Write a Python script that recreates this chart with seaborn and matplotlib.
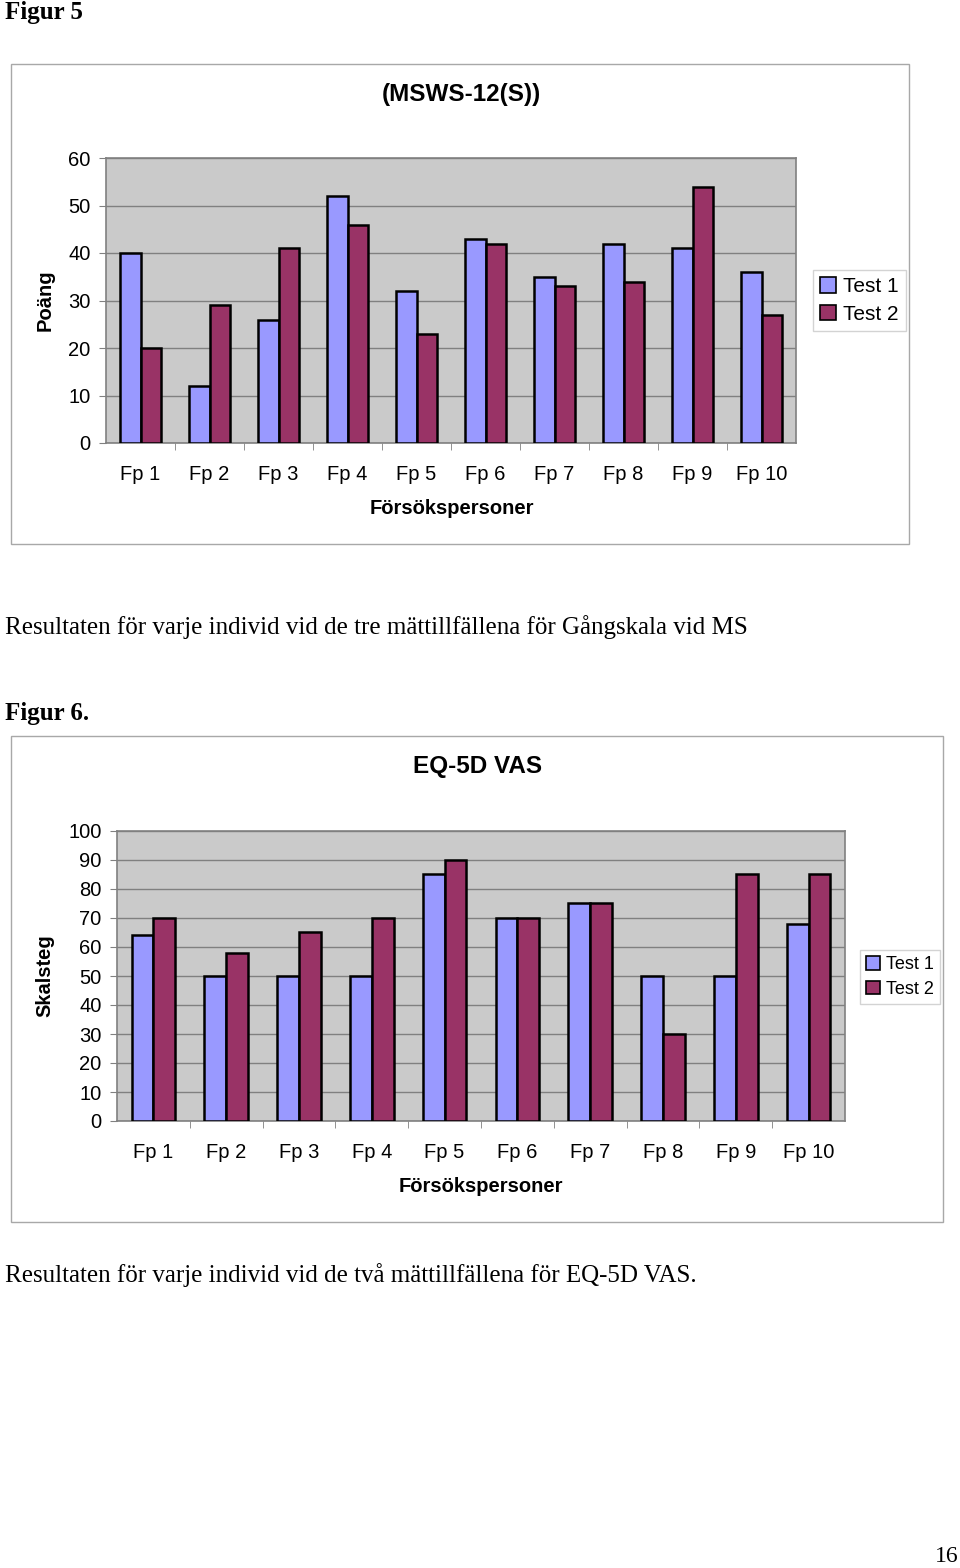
import matplotlib
matplotlib.use("Agg")
import matplotlib.pyplot as plt
import matplotlib.patches as mpatches
import seaborn as sns
import pandas as pd

# ---- data ----
participants = ["Fp 1", "Fp 2", "Fp 3", "Fp 4", "Fp 5", "Fp 6", "Fp 7", "Fp 8", "Fp 9", "Fp 10"]
series_names = ["Test 1", "Test 2"]
msws_test1 = [40, 12, 26, 52, 32, 43, 35, 42, 41, 36]
msws_test2 = [20, 29, 41, 46, 23, 42, 33, 34, 54, 27]
eq5d_test1 = [64, 50, 50, 50, 85, 70, 75, 50, 50, 68]
eq5d_test2 = [70, 58, 65, 70, 90, 70, 75, 30, 85, 85]
msws_yticks = [0, 10, 20, 30, 40, 50, 60]
eq5d_yticks = [0, 10, 20, 30, 40, 50, 60, 70, 80, 90, 100]

colors = ["#9999FF", "#993366"]
SANS = ["Liberation Sans", "DejaVu Sans"]
SERIF = ["Liberation Serif", "DejaVu Serif"]
plt.rcParams["font.family"] = SANS

W, H = 960, 1568
fig = plt.figure(figsize=(W / 100, H / 100), dpi=100)


def rect(x0, y0, x1, y1):
    return [x0 / W, 1 - y1 / H, (x1 - x0) / W, (y1 - y0) / H]


def fx(x):
    return x / W


def fy(y):
    return 1 - y / H


def long_df(t1, t2):
    return pd.DataFrame({
        "Fp": participants * 2,
        "Serie": [series_names[0]] * len(t1) + [series_names[1]] * len(t2),
        "Värde": list(t1) + list(t2),
    })


def draw_chart(box, plot, data, yticks, title, title_xy, ylabel, ylabel_xy, xlabel_xy, legend_xy, fs):
    # outer chart frame
    fig.patches.append(mpatches.Rectangle((fx(box[0]), fy(box[3])), fx(box[2] - box[0]), (box[3] - box[1]) / H,
                                          transform=fig.transFigure, fill=False, edgecolor="#a8a8a8", lw=1.0))
    ax = fig.add_axes(rect(*plot))
    ax.set_facecolor("#CACACA")
    sns.barplot(data=data, x="Fp", y="Värde", hue="Serie", order=participants, hue_order=series_names,
                palette=colors, saturation=1, width=0.6, edgecolor="black", linewidth=1.8, ax=ax,
                legend=False, zorder=3)
    ax.set_ylim(yticks[0], yticks[-1])
    ax.set_yticks(yticks)
    ax.set_xlim(-0.5, len(participants) - 0.5)
    ax.yaxis.grid(True, color="#808080", lw=1.0, zorder=0)
    ax.set_axisbelow(True)
    for s in ax.spines.values():
        s.set_color("#808080")
        s.set_linewidth(1.2)
    ax.tick_params(axis="y", length=5, color="#808080", labelsize=fs, pad=6)
    ax.tick_params(axis="x", length=0, labelsize=fs, pad=16)
    ax.set_xticks([i + 0.5 for i in range(len(participants) - 1)], minor=True)
    ax.tick_params(axis="x", which="minor", length=5, color="#808080")
    ax.set_xlabel("")
    ax.set_ylabel("")
    fig.text(fx(title_xy[0]), fy(title_xy[1]), title, ha="center", va="center", fontsize=17.5, fontweight="bold")
    fig.text(fx(ylabel_xy[0]), fy(ylabel_xy[1]), ylabel, ha="center", va="center", rotation=90,
             fontsize=fs, fontweight="bold")
    fig.text(fx(xlabel_xy[0]), fy(xlabel_xy[1]), "Försökspersoner", ha="center", va="center",
             fontsize=fs, fontweight="bold")
    handles = [mpatches.Patch(facecolor=c, edgecolor="black", lw=1.2) for c in colors]
    leg = fig.legend(handles, series_names, loc="upper left", bbox_to_anchor=(fx(legend_xy[0]), fy(legend_xy[1])),
                     bbox_transform=fig.transFigure, fontsize=legend_xy[2], frameon=True, fancybox=False,
                     edgecolor="#c8c8c8", handlelength=0.75, handleheight=0.75, handletextpad=0.35,
                     borderpad=0.35, labelspacing=0.4, borderaxespad=0)
    leg.get_frame().set_linewidth(1.0)
    return ax


# ---- Figur 5 ----
fig.text(fx(5), fy(13), "Figur 5", ha="left", va="center", fontsize=18, fontweight="bold", family=SERIF)
draw_chart(box=(11, 64, 909, 544), plot=(106, 158, 796, 443), data=long_df(msws_test1, msws_test2),
           yticks=msws_yticks, title="(MSWS-12(S))", title_xy=(461, 94), ylabel="Poäng", ylabel_xy=(45, 300),
           xlabel_xy=(452, 509), legend_xy=(813, 270, 15), fs=14.5)
fig.text(fx(5), fy(627), "Resultaten för varje individ vid de tre mättillfällena för Gångskala vid MS",
         ha="left", va="center", fontsize=18, family=SERIF)

# ---- Figur 6 ----
fig.text(fx(5), fy(714), "Figur 6.", ha="left", va="center", fontsize=18, fontweight="bold", family=SERIF)
draw_chart(box=(11, 736, 943, 1222), plot=(117, 831, 845, 1121), data=long_df(eq5d_test1, eq5d_test2),
           yticks=eq5d_yticks, title="EQ-5D VAS", title_xy=(478, 767), ylabel="Skalsteg", ylabel_xy=(45, 976),
           xlabel_xy=(481, 1187), legend_xy=(860, 950, 13), fs=14.5)
fig.text(fx(5), fy(1275), "Resultaten för varje individ vid de två mättillfällena för EQ-5D VAS.",
         ha="left", va="center", fontsize=18, family=SERIF)

fig.text(fx(959), fy(1557), "16", ha="right", va="center", fontsize=17, family=SERIF)

fig.savefig("out.png", dpi=100)
